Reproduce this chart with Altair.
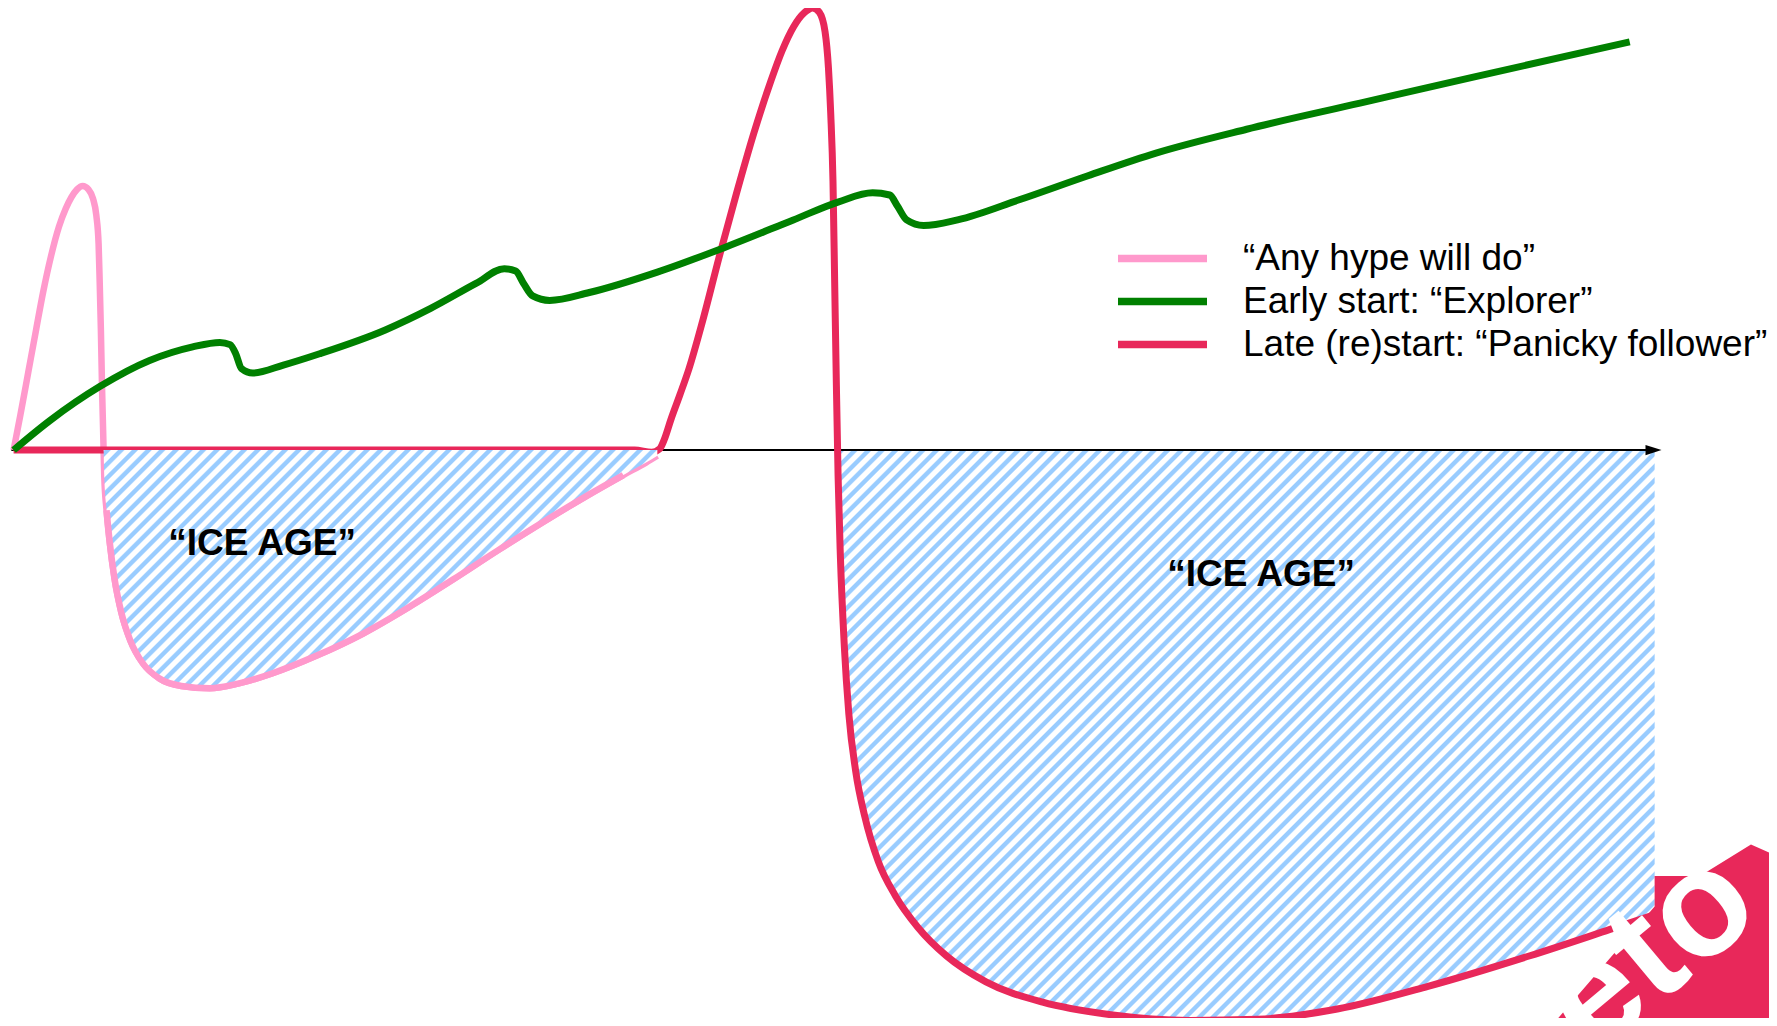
import numpy as np
import pandas as pd
import altair as alt

# ---------------- data (x: time units, y: value units; 0 = horizontal axis) ----------------
pink_x = [0, 6, 13, 20, 26, 33, 40, 46, 51, 56, 61, 66, 70, 73, 75, 76, 77, 78, 79, 80, 82, 85,
          89, 95, 103, 114, 128, 148, 173, 198, 228, 268, 308, 348, 388, 428, 468, 508, 538, 558, 568]
pink_y = [0, 31, 69, 107, 139, 171, 197, 213, 223, 230, 233, 230, 222, 207, 182, 147, 107, 57, 17, -23, -53, -83,
          -113, -143, -168, -188, -201, -208, -210, -206, -197, -181, -162, -139, -114, -88, -63, -39, -22, -11, -5]

green_x = [0, 32, 76, 120, 158, 182, 191, 196, 201, 211, 238, 270, 328, 368, 408, 433, 443, 450, 458, 473,
           508, 568, 628, 688, 728, 758, 773, 780, 788, 803, 833, 888, 948, 1008, 1088, 1188, 1288, 1426]
green_y = [0, 26, 56, 79, 91, 95, 93, 85, 72, 68, 75, 85, 106, 125, 147, 160, 158, 147, 136, 132,
           139, 157, 179, 203, 219, 227, 225, 215, 203, 198, 203, 221, 242, 262, 283, 306, 329, 360]

red_x = [0, 288, 548, 563, 570, 574, 580, 588, 596, 608, 623, 638, 653, 668, 678, 688, 698, 705, 711, 716,
         719, 721, 723, 724.5, 726, 727.5, 729.5, 733, 737, 743, 751, 763, 778, 798, 823, 858, 908, 968,
         1038, 1098, 1168, 1248, 1338, 1408, 1453]
red_y = [0, 0, 0, -2, 1, 9, 27, 49, 72, 114, 172, 227, 279, 325, 352, 373, 386, 390, 386, 369,
         337, 297, 237, 147, 57, -23, -93, -173, -233, -283, -323, -363, -393, -421, -446, -469, -487, -498,
         -503, -502, -493, -473, -446, -423, -408]

series_labels = ["\u201cAny hype will do\u201d",
                 "Early start: \u201cExplorer\u201d",
                 "Late (re)start: \u201cPanicky follower\u201d"]
series_colors = ["#FF99CC", "#008000", "#E8285A"]

ice_age_label = "\u201cICE AGE\u201d"
ice_age2_end_x = 1448
axis_end_x = 1447
logo_text = "eto"

# ---------------- layout ----------------
W, H = 1761, 1010
x_dom = [-4.94, 1548.9]
y_dom = [-500.9, 389.94]
kx = W / (x_dom[1] - x_dom[0])
ky = H / (y_dom[1] - y_dom[0])

xs = alt.Scale(domain=x_dom, nice=False, zero=False)
ys = alt.Scale(domain=y_dom, nice=False, zero=False)
X = alt.X("x:Q", scale=xs, axis=None)
Y = alt.Y("y:Q", scale=ys, axis=None)


def series_df(xv, yv):
    return pd.DataFrame({"x": xv, "y": yv, "o": range(len(xv))})


def hatch_area(xv, yv, start_after, end_x=None):
    xv = np.asarray(xv, float)
    yv = np.asarray(yv, float)
    i = next(k for k in range(len(xv)) if xv[k] > start_after and yv[k] < 0)
    x0 = xv[i - 1] + (0 - yv[i - 1]) * (xv[i] - xv[i - 1]) / (yv[i] - yv[i - 1])
    px, py = [x0], [0.0]
    for k in range(i, len(xv)):
        if end_x is not None and xv[k] >= end_x:
            break
        px.append(xv[k]); py.append(yv[k])
    if end_x is not None:
        px.append(end_x); py.append(float(np.interp(end_x, xv, yv)))
    return pd.DataFrame({"x": px, "y": py, "y0": 0.0})


def hatch_fill(df, period=9.6, blue="#99CCFF"):
    w = (df["x"].max() - df["x"].min()) * kx
    h = (0 - df["y"].min()) * ky
    a, b = 1.0 / h, 1.0 / w
    s = (a + b) / (a * a + b * b)
    n = int(((w + h) / np.sqrt(2)) / period)
    stops = []
    for i in range(n):
        o = i / n
        stops += [(o, "#FFFFFF"), (o + 0.12 / n, blue), (o + 0.46 / n, blue), (o + 0.58 / n, "#FFFFFF")]
    stops.append((1.0, "#FFFFFF"))
    return alt.Gradient(gradient="linear",
                        stops=[alt.GradientStop(offset=round(o, 6), color=c) for o, c in stops],
                        x1=0, y1=0, x2=float(s * a), y2=float(s * b))


pink_df = series_df(pink_x, pink_y)
green_df = series_df(green_x, green_y)
red_df = series_df(red_x, red_y)
hatch1 = hatch_area(pink_x, pink_y, 70)
hatch2 = hatch_area(red_x, red_y, 705, ice_age2_end_x)
trough = pink_df[(pink_df.x >= 82) & (pink_df.x <= 548)]

LW = 7


def line(df, color, w=LW):
    return alt.Chart(df).mark_line(color=color, strokeWidth=w, interpolate="monotone",
                                   strokeCap="butt", strokeJoin="round").encode(x=X, y=Y, order="o:Q")


def area(df):
    return alt.Chart(df).mark_area(fill=hatch_fill(df), interpolate="monotone").encode(
        x=X, y=Y, y2="y0:Q")


axis_df = pd.DataFrame({"x": [-2.0], "x2": [float(axis_end_x)], "y": [0.0]})
axis_rule = alt.Chart(axis_df).mark_rule(color="black", strokeWidth=2).encode(
    x=X, x2="x2:Q", y=Y)
arrow = alt.Chart(pd.DataFrame({"x": [float(axis_end_x)], "y": [0.0]})).mark_point(
    shape="M-1,-0.65L1,0L-1,0.65Z", size=256, filled=True, color="black", opacity=1
).encode(x=X, y=Y)

# partially visible logo badge in the bottom-right corner
logo_shape = ("M-0.026,-0.477L0.323,-0.477L0.715,-0.72L1.0,-0.592L1.0,0.769"
              "L-0.9,0.769L-0.026,-0.242Z")
one = pd.DataFrame({"t": [logo_text]})
logo_bg = alt.Chart(one).mark_point(shape=logo_shape, size=67600, filled=True,
                                    color="#E8285A", opacity=1).encode(
    x=alt.value(1650), y=alt.value(930))
logo_txt = alt.Chart(one).mark_text(font="Liberation Sans", fontWeight="bold", fontSize=150,
                                    color="white", angle=320, align="center", baseline="middle").encode(
    x=alt.value(1642), y=alt.value(945), text="t:N")

layers = [area(hatch2), axis_rule, arrow,
          line(pink_df, series_colors[0], 6.5),
          line(red_df, series_colors[2]),
          area(hatch1),
          line(trough, series_colors[0], 6.5),
          line(green_df, series_colors[1]),
          logo_bg, logo_txt]

# ICE AGE labels
for (px_, py_) in [(254, 536), (1253, 567)]:
    layers.append(alt.Chart(pd.DataFrame({"t": [ice_age_label]})).mark_text(
        font="Liberation Sans", fontSize=37, fontWeight="bold", color="black",
        align="center", baseline="middle").encode(
        x=alt.value(px_), y=alt.value(py_), text="t:N"))

# legend
for i, (lab, col) in enumerate(zip(series_labels, series_colors)):
    yy = 250.5 + 43 * i
    d = pd.DataFrame({"t": [lab]})
    layers.append(alt.Chart(d).mark_rule(color=col, strokeWidth=7.5, strokeCap="butt").encode(
        x=alt.value(1110), x2=alt.value(1199), y=alt.value(yy)))
    layers.append(alt.Chart(d).mark_text(font="Liberation Sans", fontSize=37, color="black",
                                         align="left", baseline="middle").encode(
        x=alt.value(1235), y=alt.value(yy), text="t:N"))

chart = alt.layer(*layers).properties(
    width=W, height=H, padding=0, background="white",
    autosize=alt.AutoSizeParams(type="none")
).configure_view(stroke=None)

chart.save("out.html", embed_options={"renderer": "svg", "actions": False})
